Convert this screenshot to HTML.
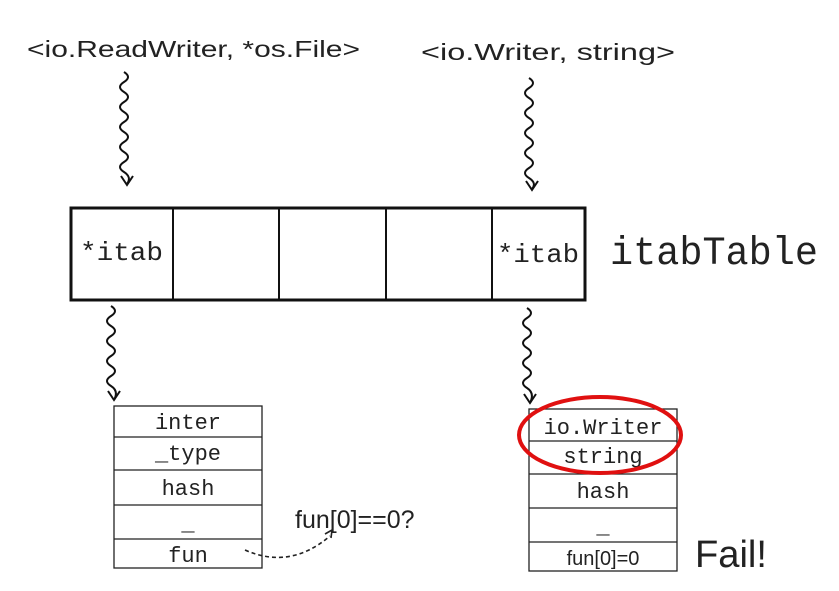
<!DOCTYPE html>
<html><head><meta charset="utf-8"><style>
html,body{margin:0;padding:0;background:#fff;width:839px;height:591px;overflow:hidden}
svg text{fill:#222}
.m{font-family:"Liberation Mono",monospace}
.s{font-family:"Liberation Sans Narrow","Liberation Sans",sans-serif}
</style></head><body>
<svg width="839" height="591" viewBox="0 0 839 591" xmlns="http://www.w3.org/2000/svg">
<g fill="none" stroke="#111" stroke-width="2">
<path d="M124 72 q8 5 0 10 t0 10 t0 10 t0 10 t0 10 t0 10 t0 10 t0 10 t0 10 t0 10 t3 12"/>
<path d="M121 176 l6 9 l6 -9"/>
<path d="M529 78 q8 5 0 10 t0 10 t0 10 t0 10 t0 10 t0 10 t0 10 t0 10 t0 10 t0 10 t3 11"/>
<path d="M526 181 l6 9 l6 -9"/>
<path d="M111 306 q8 5 0 10 t0 10 t0 10 t0 10 t0 10 t0 10 t0 10 t0 10 t3 14"/>
<path d="M108 391 l6 9 l6 -9"/>
<path d="M527 308 q8 5 0 10 t0 10 t0 10 t0 10 t0 10 t0 10 t0 10 t0 10 t3 15"/>
<path d="M524 394 l6 9 l6 -9"/>
<rect x="71" y="208" width="514" height="92" stroke-width="3"/>
<path d="M173 208v92M279 208v92M386 208v92M492 208v92"/>
</g>
<g fill="none" stroke="#222" stroke-width="1.3">
<rect x="114" y="406" width="148" height="162"/>
<path d="M114 437h148M114 470h148M114 505h148M114 539h148"/>
<rect x="529" y="409" width="148" height="162"/>
<path d="M529 441h148M529 474h148M529 508h148M529 542h148"/>
<path d="M245 550 q45 20 85 -14" stroke-dasharray="4 3" stroke-width="1.6"/>
<path d="M325 534 l7 -4 l-1 8" stroke-width="1.6"/>
</g>
<text x="27" y="57" class="s" font-size="23" textLength="333" lengthAdjust="spacingAndGlyphs">&lt;io.ReadWriter, *os.File&gt;</text>
<text x="421" y="60" class="s" font-size="23" textLength="254" lengthAdjust="spacingAndGlyphs">&lt;io.Writer, string&gt;</text>
<text x="80" y="260" class="m" font-size="26" textLength="83" lengthAdjust="spacingAndGlyphs">*itab</text>
<text x="497" y="262" class="m" font-size="26" textLength="82" lengthAdjust="spacingAndGlyphs">*itab</text>
<text x="610" y="264" class="m" font-size="40" textLength="208" lengthAdjust="spacingAndGlyphs">itabTable</text>
<g class="m" font-size="22" text-anchor="middle">
<text x="188" y="429">inter</text>
<text x="188" y="460">_type</text>
<text x="188" y="495">hash</text>
<text x="188" y="530">_</text>
<text x="188" y="562">fun</text>
<text x="603" y="434">io.Writer</text>
<text x="603" y="463">string</text>
<text x="603" y="498">hash</text>
<text x="603" y="533">_</text>
</g>
<text x="603" y="565" class="s" font-size="20" text-anchor="middle">fun[0]=0</text>
<text x="295" y="528" class="s" font-size="25">fun[0]==0?</text>
<text x="695" y="567" font-family="Liberation Sans,sans-serif" font-size="38" fill="#111" textLength="72" lengthAdjust="spacingAndGlyphs">Fail!</text>
<ellipse cx="600" cy="435" rx="81" ry="38" fill="none" stroke="#e01010" stroke-width="4"/>
</svg>
</body></html>
